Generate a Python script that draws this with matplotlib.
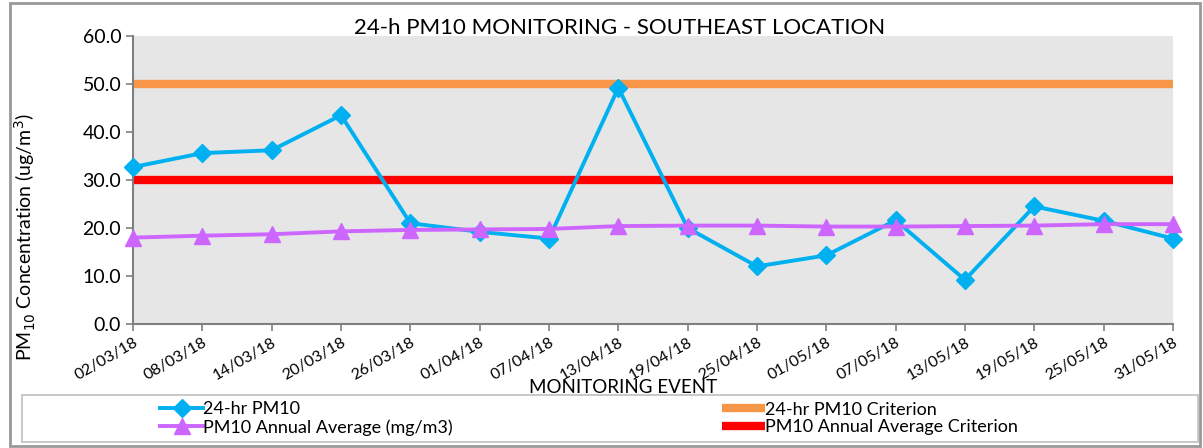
import matplotlib
matplotlib.use('Agg')
import matplotlib.pyplot as plt
import matplotlib.patches as mpatches

plt.rcParams['font.family'] = ['Lato', 'DejaVu Sans']

# monitoring events
dates = ['02/03/18', '08/03/18', '14/03/18', '20/03/18', '26/03/18', '01/04/18',
         '07/04/18', '13/04/18', '19/04/18', '25/04/18', '01/05/18', '07/05/18',
         '13/05/18', '19/05/18', '25/05/18', '31/05/18']

# series values (ug/m3)
pm10_24h = [32.7, 35.6, 36.2, 43.5, 21.0, 19.2, 17.8, 49.2,
            20.0, 12.0, 14.3, 21.6, 9.2, 24.5, 21.5, 17.8]
pm10_annual = [18.0, 18.4, 18.7, 19.3, 19.6, 19.7, 19.8, 20.4,
               20.5, 20.5, 20.3, 20.3, 20.4, 20.5, 20.8, 20.8]
crit_24h = [50.0] * len(dates)
crit_annual = [30.0] * len(dates)

fig = plt.figure(figsize=(12.03, 4.48), dpi=100)
ax = fig.add_axes([0.1106, 0.2768, 0.8644, 0.6428])
ax.set_facecolor('#e6e6e6')

x = list(range(len(dates)))
l_orange, = ax.plot(x, crit_24h, color='#F79646', lw=6, solid_capstyle='butt',
                    label='24-hr PM10 Criterion', zorder=2)
l_red, = ax.plot(x, crit_annual, color='#FF0000', lw=6, solid_capstyle='butt',
                 label='PM10 Annual Average Criterion', zorder=2)
l_blue, = ax.plot(x, pm10_24h, color='#00B0F0', lw=2.8, marker='D', markersize=9.5,
                  label='24-hr PM10', zorder=3, clip_on=False)
l_purple, = ax.plot(x, pm10_annual, color='#CC66FF', lw=2.8, marker='^', markersize=11,
                    label='PM10 Annual Average (mg/m3)', zorder=4, clip_on=False)

ax.set_xlim(0, len(dates) - 1)
ax.set_ylim(0, 60)
ax.set_yticks(range(0, 61, 10))
ax.set_yticklabels(['%.1f' % v for v in range(0, 61, 10)], fontsize=14)
ax.set_xticks(x)
ax.set_xticklabels(dates, rotation=30, ha='right', rotation_mode='anchor', fontsize=11.5)
ax.tick_params(axis='both', color='#808080', length=5, width=1.2)
ax.tick_params(axis='x', pad=3)

for s in ['top', 'right']:
    ax.spines[s].set_visible(False)
for s in ['left', 'bottom']:
    ax.spines[s].set_color('#808080')
    ax.spines[s].set_linewidth(1.5)

ax.set_ylabel('PM$_{10}$ Concentration (ug/m$^3$)', fontsize=14)
ax.yaxis.set_label_coords(-0.091, 0.30)
fig.text(0.518, 0.115, 'MONITORING EVENT', ha='center', va='bottom', fontsize=13.5)
fig.text(0.515, 0.937, '24-h PM10 MONITORING - SOUTHEAST LOCATION',
         ha='center', va='center', fontsize=16)

# legend box and outer frame
fig.patches.append(mpatches.Rectangle((22 / 1203, 6 / 448), 1176 / 1203, 47 / 448,
                                      transform=fig.transFigure, facecolor='white',
                                      edgecolor='#bfbfbf', lw=1.2, zorder=5))
fig.patches.append(mpatches.Rectangle((10 / 1203, 2 / 448), 1190 / 1203, 443 / 448,
                                      transform=fig.transFigure, facecolor='none',
                                      edgecolor='#999999', lw=2))

leg_kw = dict(loc='center left', frameon=False, fontsize=13, handlelength=2.4,
              handletextpad=0.0, labelspacing=0.1, borderpad=0, borderaxespad=0)
leg1 = fig.legend(handles=[l_blue, l_purple], bbox_to_anchor=(160 / 1203, 29.5 / 448), **leg_kw)
leg2 = fig.legend(handles=[l_orange, l_red], bbox_to_anchor=(722 / 1203, 29.5 / 448), **leg_kw)
leg1.set_zorder(6)
leg2.set_zorder(6)

fig.savefig('out.png', dpi=100)
